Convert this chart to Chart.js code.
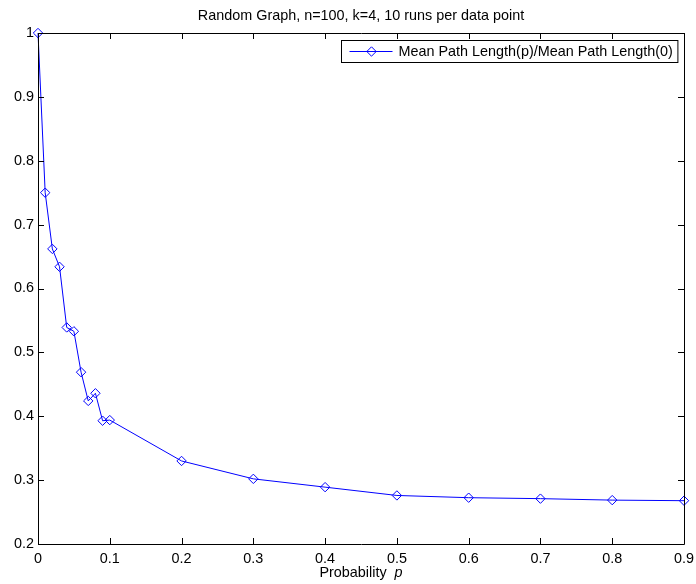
<!DOCTYPE html>
<html>
<head>
<meta charset="utf-8">
<script src="https://cdn.jsdelivr.net/npm/chart.js@4"></script>
<style>
  body { margin: 0; background: #fff; }
  #wrap { width: 696px; height: 584px; }
</style>
</head>
<body>
<div id="wrap"><canvas id="myChart" width="696" height="584"></canvas></div>
<script>
// values
const probs = [0, 0.01, 0.02, 0.03, 0.04, 0.05, 0.06, 0.07, 0.08, 0.09, 0.1,
               0.2, 0.3, 0.4, 0.5, 0.6, 0.7, 0.8, 0.9];
const ratio = [1.0, 0.75, 0.662, 0.634, 0.539, 0.533, 0.469, 0.424, 0.436, 0.393, 0.394,
               0.330, 0.302, 0.289, 0.276, 0.2725, 0.271, 0.2687, 0.2678];
const seriesLabel = 'Mean Path Length(p)/Mean Path Length(0)';
const titleText = 'Random Graph, n=100, k=4, 10 runs per data point';

const FONT = '"Liberation Sans", Arial, Helvetica, sans-serif';
const FS = 14.4;

// MATLAB-ish box with inward ticks on all four sides, plus title, axis label, legend
const boxTicks = {
    id: 'boxTicks',
    afterDraw(chart) {
        const ctx = chart.ctx;
        const a = chart.chartArea;
        const xs = chart.scales.x, ys = chart.scales.y;
        const len = 6;
        ctx.save();
        ctx.strokeStyle = '#000';
        ctx.lineWidth = 1;
        ctx.beginPath();
        ctx.rect(a.left + 0.5, a.top + 0.5, a.right - a.left, a.bottom - a.top);
        xs.ticks.forEach(t => {
            const px = Math.round(xs.getPixelForValue(t.value)) + 0.5;
            ctx.moveTo(px, a.bottom); ctx.lineTo(px, a.bottom - len);
            ctx.moveTo(px, a.top); ctx.lineTo(px, a.top + len);
        });
        ys.ticks.forEach(t => {
            const py = Math.round(ys.getPixelForValue(t.value)) + 0.5;
            ctx.moveTo(a.left, py); ctx.lineTo(a.left + len, py);
            ctx.moveTo(a.right, py); ctx.lineTo(a.right - len, py);
        });
        ctx.stroke();

        const cx = (a.left + a.right) / 2;

        // title, centred over the plot box
        ctx.fillStyle = '#000';
        ctx.textBaseline = 'middle';
        ctx.textAlign = 'center';
        ctx.font = FS + 'px ' + FONT;
        ctx.fillText(titleText, cx, a.top - 17);

        // x axis title with italic p
        const w1 = ctx.measureText('Probability  ').width;
        ctx.font = 'italic ' + FS + 'px ' + FONT;
        const w2 = ctx.measureText('p').width;
        const y = a.bottom + 29;
        ctx.textAlign = 'left';
        ctx.font = FS + 'px ' + FONT;
        ctx.fillText('Probability  ', cx - (w1 + w2) / 2, y);
        ctx.font = 'italic ' + FS + 'px ' + FONT;
        ctx.fillText('p', cx - (w1 + w2) / 2 + w1, y);

        // legend box in the top right corner
        const ds = chart.data.datasets[0];
        ctx.font = FS + 'px ' + FONT;
        const tw = ctx.measureText(ds.label).width;
        const bw = 57 + tw + 5, bh = 22;
        const bx = Math.round(a.right - 7 - bw) + 0.5, by = Math.round(a.top + 7) + 0.5;
        ctx.fillStyle = '#fff';
        ctx.fillRect(bx, by, bw, bh);
        ctx.strokeStyle = '#000';
        ctx.strokeRect(bx, by, bw, bh);
        const my = by + bh / 2;
        ctx.strokeStyle = ds.borderColor;
        ctx.beginPath();
        ctx.moveTo(bx + 8, my); ctx.lineTo(bx + 51, my);
        ctx.stroke();
        ctx.beginPath();
        const r = ds.pointRadius;
        ctx.moveTo(bx + 30, my - r); ctx.lineTo(bx + 30 + r, my);
        ctx.lineTo(bx + 30, my + r); ctx.lineTo(bx + 30 - r, my);
        ctx.closePath();
        ctx.stroke();
        ctx.fillStyle = '#000';
        ctx.textAlign = 'left';
        ctx.fillText(ds.label, bx + 57, my + 1);
        ctx.restore();
    }
};

const ctx = document.getElementById('myChart').getContext('2d');
new Chart(ctx, {
    type: 'line',
    data: {
        datasets: [{
            label: seriesLabel,
            data: probs.map((p, i) => ({ x: p, y: ratio[i] })),
            borderColor: '#0000ff',
            borderWidth: 1,
            pointStyle: 'rectRot',
            pointRadius: 4.7,
            pointBorderWidth: 1,
            pointBorderColor: '#0000ff',
            pointBackgroundColor: 'rgba(0,0,0,0)',
            tension: 0,
            clip: false
        }]
    },
    options: {
        responsive: false,
        animation: false,
        layout: { padding: { left: 0, right: 12, top: 33, bottom: 0 } },
        scales: {
            x: {
                type: 'linear',
                min: 0,
                max: 0.9,
                grid: { display: false, drawTicks: false },
                border: { display: false },
                ticks: {
                    stepSize: 0.1,
                    padding: 6,
                    color: '#000',
                    font: { size: FS, family: FONT },
                    maxRotation: 0,
                    callback: v => String(+v.toFixed(1))
                },
                afterFit: s => { s.height = 40; s.paddingLeft = 0; s.paddingRight = 0; }
            },
            y: {
                min: 0.2,
                max: 1,
                grid: { display: false, drawTicks: false },
                border: { display: false },
                ticks: {
                    stepSize: 0.1,
                    padding: 4,
                    color: '#000',
                    font: { size: FS, family: FONT },
                    callback: v => String(+v.toFixed(1))
                },
                afterFit: s => { s.width = 38; s.paddingTop = 0; s.paddingBottom = 0; }
            }
        },
        plugins: {
            legend: { display: false },
            tooltip: { enabled: false },
            title: { display: false }
        }
    },
    plugins: [boxTicks]
});
</script>
</body>
</html>
